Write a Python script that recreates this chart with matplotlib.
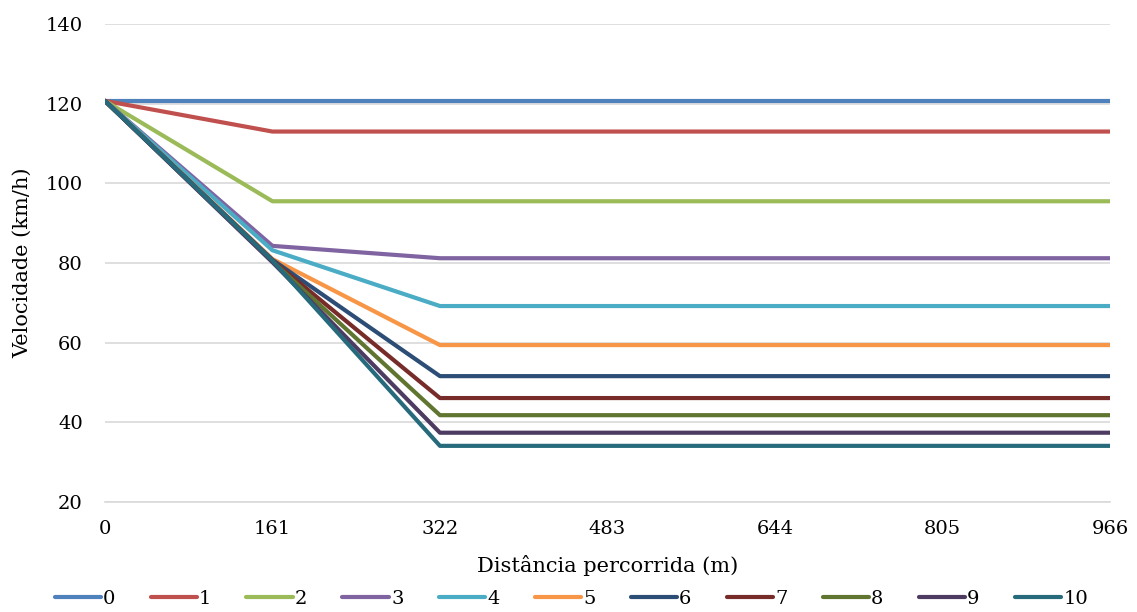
import numpy as np
import matplotlib.pyplot as plt

# distance travelled (m)
distance = [0, 161, 322, 483, 644, 805, 966]

# speed (km/h) for each scenario
v0 = [120.7, 120.7, 120.7, 120.7, 120.7, 120.7, 120.7]
v1 = [120.7, 113.0, 113.0, 113.0, 113.0, 113.0, 113.0]
v2 = [120.7, 95.5, 95.5, 95.5, 95.5, 95.5, 95.5]
v3 = [120.7, 84.3, 81.2, 81.2, 81.2, 81.2, 81.2]
v4 = [120.7, 83.2, 69.2, 69.2, 69.2, 69.2, 69.2]
v5 = [120.7, 81.0, 59.4, 59.4, 59.4, 59.4, 59.4]
v6 = [120.7, 80.8, 51.6, 51.6, 51.6, 51.6, 51.6]
v7 = [120.7, 80.6, 46.1, 46.1, 46.1, 46.1, 46.1]
v8 = [120.7, 80.4, 41.8, 41.8, 41.8, 41.8, 41.8]
v9 = [120.7, 80.2, 37.4, 37.4, 37.4, 37.4, 37.4]
v10 = [120.7, 80.6, 34.1, 34.1, 34.1, 34.1, 34.1]

labels = ["0", "1", "2", "3", "4", "5", "6", "7", "8", "9", "10"]
series = [v0, v1, v2, v3, v4, v5, v6, v7, v8, v9, v10]
colors = ["#4F81BD", "#C0504D", "#9BBB59", "#8064A2", "#4BACC6", "#F79646",
          "#2C4D75", "#772C2A", "#5F7530", "#4D3B62", "#276A7C"]

plt.rcParams["font.family"] = ["DejaVu Serif"]

fig = plt.figure(figsize=(11.37, 6.12), dpi=100)
ax = fig.add_axes([0.0923, 0.1797, 0.8839, 0.7811])

for vals, lab, c in zip(series, labels, colors):
    ax.plot(distance, vals, color=c, lw=3, label=lab, solid_capstyle="round")

ax.set_xlim(0, 966)
ax.set_ylim(20, 140)
ax.set_xticks(distance)
ax.set_yticks(np.arange(20, 141, 20))
ax.tick_params(axis="both", length=0, labelsize=14)
ax.tick_params(axis="x", pad=13)
ax.tick_params(axis="y", pad=16)
ax.yaxis.grid(True, color="#D9D9D9", lw=1.2)
ax.set_axisbelow(True)
for s in ["top", "right", "left"]:
    ax.spines[s].set_visible(False)
ax.spines["bottom"].set_color("#D9D9D9")
ax.spines["bottom"].set_linewidth(1.2)

ax.set_xlabel("Distância percorrida (m)", fontsize=15, labelpad=12)
ax.set_ylabel("Velocidade (km/h)", fontsize=15, labelpad=10)

ax.legend(loc="upper center", bbox_to_anchor=(0.464, -0.155), ncol=11,
          frameon=False, fontsize=14, handlelength=2.4, columnspacing=1.8,
          handletextpad=0.1, borderpad=0.2)

fig.savefig("out.png", dpi=100)
